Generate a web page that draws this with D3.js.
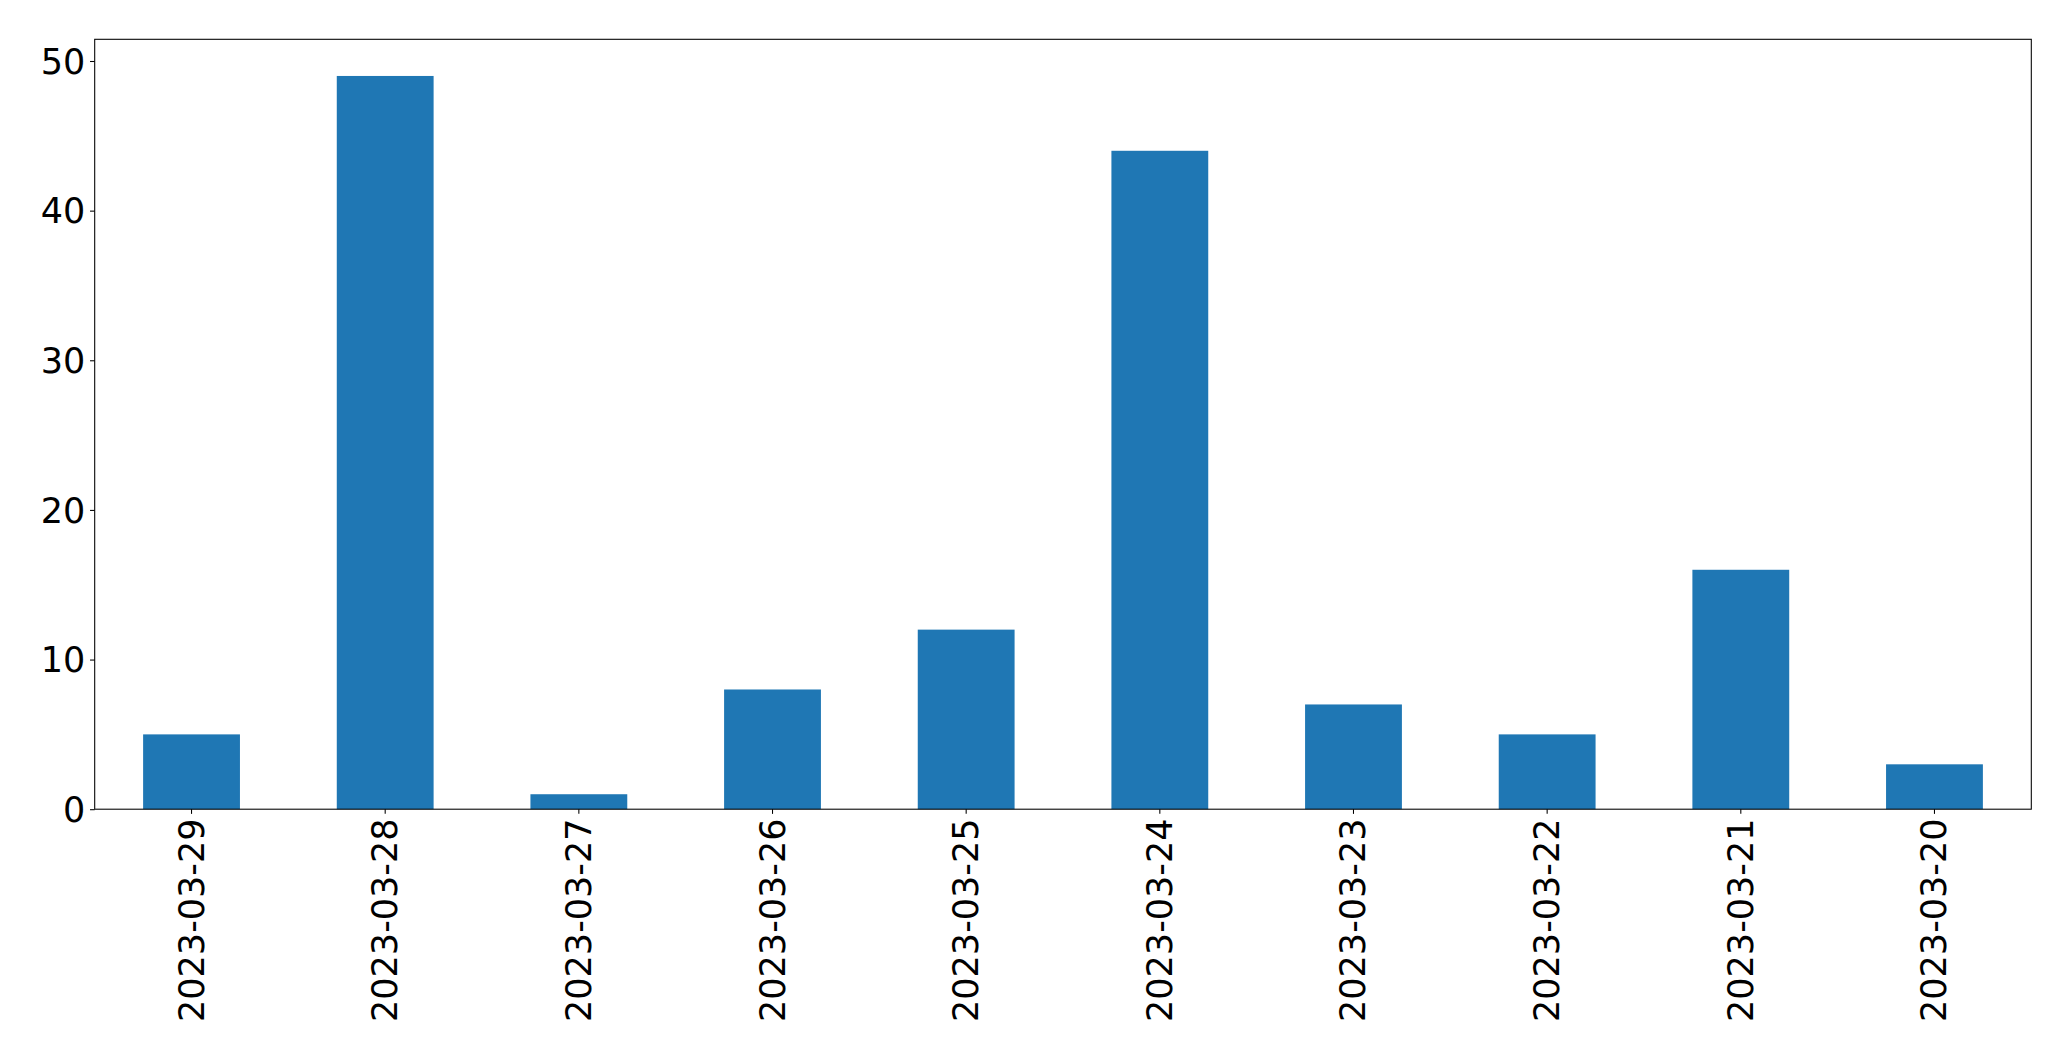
<!DOCTYPE html>
<html>
<head>
<meta charset="utf-8">
<script src="https://cdn.jsdelivr.net/npm/d3@7"></script>
<style>
  html, body { margin: 0; padding: 0; background: #fff; }
  text { font-family: "DejaVu Sans", sans-serif; }
</style>
</head>
<body>
<svg id="chart" width="2071" height="1061"></svg>
<script>
const categories = ["2023-03-29","2023-03-28","2023-03-27","2023-03-26","2023-03-25","2023-03-24","2023-03-23","2023-03-22","2023-03-21","2023-03-20"];
const values = [5, 49, 1, 8, 12, 44, 7, 5, 16, 3];
const yTicks = [0, 10, 20, 30, 40, 50];

const W = 2071, H = 1061;
const margin = {left: 94.7, right: W - 2031.3, top: 39.3, bottom: H - 809.2};
const iw = W - margin.left - margin.right;
const ih = H - margin.top - margin.bottom;
const fontSize = 35;
const tickLen = 4.67, pad = 4.67;

const svg = d3.select("#chart");
const g = svg.append("g").attr("transform", `translate(${margin.left},${margin.top})`);

const x = d3.scaleBand().domain(categories).range([0, iw]).paddingInner(0.5).paddingOuter(0.25);
const y = d3.scaleLinear().domain([0, d3.max(values) * 1.05]).range([ih, 0]);

g.selectAll("rect.bar").data(values).enter().append("rect")
  .attr("class", "bar")
  .attr("x", (d, i) => x(categories[i]))
  .attr("width", x.bandwidth())
  .attr("y", d => y(d))
  .attr("height", d => ih - y(d))
  .attr("fill", "#1f77b4");

// y axis
const yAxis = d3.axisLeft(y).tickValues(yTicks).tickFormat(d3.format("d")).tickSize(tickLen).tickPadding(pad);
const ya = g.append("g").call(yAxis);
ya.select(".domain").remove();
ya.selectAll(".tick line").attr("stroke", "#000").attr("stroke-width", 1.07);
ya.selectAll(".tick text").attr("font-size", fontSize).attr("fill", "#000")
  .attr("font-family", "DejaVu Sans, sans-serif").attr("dy", "0.35em");

// x axis
const xAxis = d3.axisBottom(x).tickSize(tickLen).tickPadding(pad);
const xa = g.append("g").attr("transform", `translate(0,${ih})`).call(xAxis);
xa.select(".domain").remove();
xa.selectAll(".tick line").attr("stroke", "#000").attr("stroke-width", 1.07);
xa.selectAll(".tick text")
  .attr("font-size", fontSize).attr("fill", "#000")
  .attr("font-family", "DejaVu Sans, sans-serif")
  .attr("text-anchor", "end")
  .attr("x", 0).attr("y", 0).attr("dy", 0)
  .attr("dominant-baseline", "central")
  .attr("transform", `translate(0,${tickLen + pad}) rotate(-90)`);

// frame
g.append("rect").attr("x", 0).attr("y", 0).attr("width", iw).attr("height", ih)
  .attr("fill", "none").attr("stroke", "#000").attr("stroke-width", 1.07);
</script>
</body>
</html>
